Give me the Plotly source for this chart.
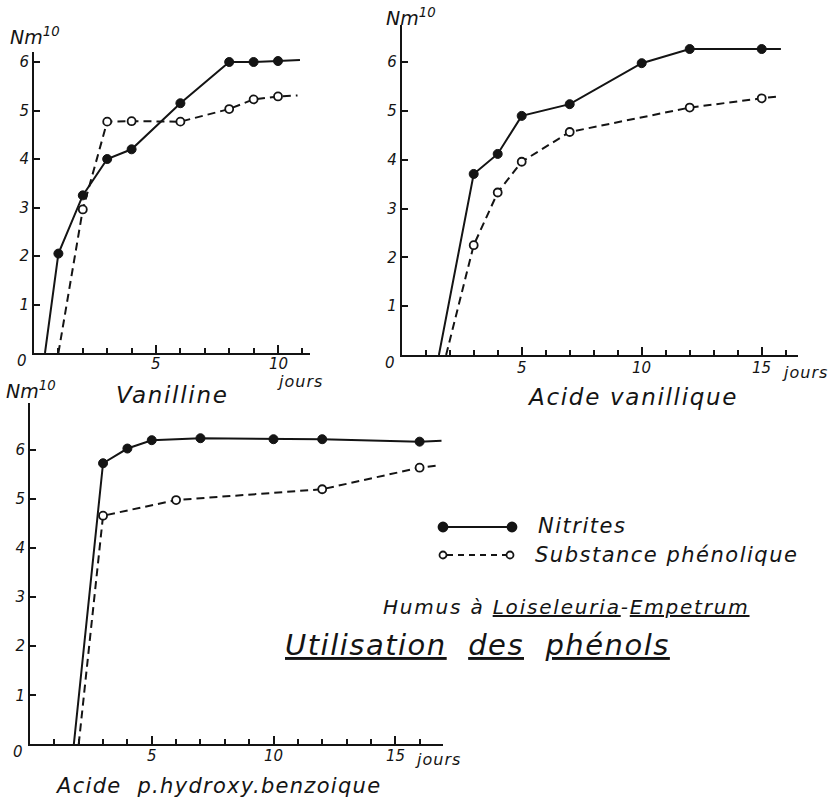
import plotly.graph_objects as go

# ---------------- data ----------------
# Panel 1 : Vanilline
van_nit_days = [0.45, 1, 2, 3, 4, 6, 8, 9, 10, 10.9]
van_nit_vals = [0, 2.05, 3.25, 4.0, 4.2, 5.15, 6.0, 6.0, 6.02, 6.04]
van_phe_days = [1, 2, 3, 4, 6, 8, 9, 10, 10.8]
van_phe_vals = [0, 2.96, 4.77, 4.78, 4.77, 5.03, 5.23, 5.29, 5.31]

# Panel 2 : Acide vanillique
vac_nit_days = [1.55, 3, 4, 5, 7, 10, 12, 15, 15.8]
vac_nit_vals = [0, 3.71, 4.12, 4.9, 5.14, 5.98, 6.27, 6.27, 6.27]
vac_phe_days = [1.85, 3, 4, 5, 7, 12, 15, 15.7]
vac_phe_vals = [0, 2.25, 3.33, 3.96, 4.57, 5.07, 5.26, 5.3]

# Panel 3 : Acide p.hydroxy.benzoique
phb_nit_days = [1.8, 3, 4, 5, 7, 10, 12, 16, 16.9]
phb_nit_vals = [0, 5.73, 6.03, 6.2, 6.24, 6.22, 6.22, 6.17, 6.19]
phb_phe_days = [2.0, 3, 6, 12, 16, 16.8]
phb_phe_vals = [0, 4.66, 4.98, 5.2, 5.64, 5.69]

y_ticks = [1, 2, 3, 4, 5, 6]
x_ticks_short = [5, 10]
x_ticks_long = [5, 10, 15]

series_names = ["Nitrites", "Substance phénolique"]
panel_titles = ["Vanilline", "Acide vanillique", "Acide  p.hydroxy.benzoique"]
y_title = "Nm<sup>10</sup>"
x_unit = "jours"
subtitle = "Humus à <u>Loiseleuria</u>-<u>Empetrum</u>"
main_title = "<u>Utilisation</u>  <u>des</u>  <u>phénols</u>"

# ---------------- style ----------------
W, H = 838, 802
INK = "#141414"
FONT = "DejaVu Sans"


def dx(px):
    return px / W


def dy(py):
    return 1 - py / H


def it(size):
    return dict(family=FONT, size=size, color=INK, style="italic")


def spaced(text, ls):
    return '<span style="letter-spacing:%spx">%s</span>' % (ls, text)


fig = go.Figure()


def add_pair(nd, nv, pd_, pv, xa, ya):
    n_sizes = [0] + [9] * (len(nd) - 2) + [0]
    p_sizes = [0] + [8] * (len(pd_) - 2) + [0]
    fig.add_trace(go.Scatter(
        x=pd_, y=pv, xaxis=xa, yaxis=ya, mode="lines+markers",
        line=dict(color=INK, width=2, dash="8px,5px"),
        marker=dict(size=p_sizes, color="white", opacity=1,
                    line=dict(color=INK, width=1.8)),
        showlegend=False, hoverinfo="skip"))
    fig.add_trace(go.Scatter(
        x=nd, y=nv, xaxis=xa, yaxis=ya, mode="lines+markers",
        line=dict(color=INK, width=2),
        marker=dict(size=n_sizes, color=INK, opacity=1, line=dict(color=INK, width=1)),
        showlegend=False, hoverinfo="skip"))


add_pair(van_nit_days, van_nit_vals, van_phe_days, van_phe_vals, "x", "y")
add_pair(vac_nit_days, vac_nit_vals, vac_phe_days, vac_phe_vals, "x2", "y2")
add_pair(phb_nit_days, phb_nit_vals, phb_phe_days, phb_phe_vals, "x3", "y3")


def xaxis(dom_px, rng):
    return dict(
        domain=[dx(dom_px[0]), dx(dom_px[1])], range=rng,
        showline=True, linewidth=2, linecolor=INK, showgrid=False, zeroline=False,
        dtick=5, tick0=0, showticklabels=False,
        ticks="inside", ticklen=8, tickwidth=2, tickcolor=INK,
        minor=dict(dtick=1, ticks="inside", ticklen=5, tickwidth=2, tickcolor=INK),
    )


def yaxis(dom_px, rng):
    return dict(
        domain=[dy(dom_px[0]), dy(dom_px[1])], range=rng,
        showline=True, linewidth=2, linecolor=INK, showgrid=False, zeroline=False,
        tickvals=y_ticks, ticktext=[str(v) for v in y_ticks],
        ticks="inside", ticklen=6, tickwidth=2, tickcolor=INK,
        tickfont=it(15))


fig.update_layout(
    width=W, height=H, autosize=False,
    margin=dict(l=0, r=0, t=0, b=0, pad=0),
    paper_bgcolor="white", plot_bgcolor="rgba(0,0,0,0)",
    xaxis=dict(xaxis([34, 34 + 24.4 * 11.3], [0, 11.3]), anchor="y"),
    yaxis=dict(yaxis([353, 353 - 48.5 * 6.2], [0, 6.2]), anchor="x"),
    xaxis2=dict(xaxis([401.7, 401.7 + 24.0 * 16.5], [0, 16.5]), anchor="y2"),
    yaxis2=dict(yaxis([355, 355 - 48.8 * 6.76], [0, 6.76]), anchor="x2"),
    xaxis3=dict(xaxis([30, 30 + 24.35 * 16.95], [0, 16.95]), anchor="y3"),
    yaxis3=dict(yaxis([744.3, 744.3 - 49.05 * 6.95], [0, 6.95]), anchor="x3"),
    showlegend=False,
)

ann = []


def paper_text(text, x, y, size, xanchor="center"):
    ann.append(dict(text=text, x=dx(x), y=dy(y), xref="paper", yref="paper",
                    xanchor=xanchor, yanchor="middle", showarrow=False, font=it(size)))


# x tick labels (as annotations, close under the axis) and "0" origin labels
for xr, yr, ticks, shift in [("x", "y", x_ticks_short, -11),
                             ("x2", "y2", x_ticks_long, -13),
                             ("x3", "y3", x_ticks_long, -12)]:
    for v in ticks:
        ann.append(dict(text=str(v), x=v, y=0, xref=xr, yref=yr, yshift=shift,
                        showarrow=False, font=it(15), xanchor="center", yanchor="middle"))
    ann.append(dict(text="0", x=0, y=0, xref=xr, yref=yr, xshift=-12, yshift=-8,
                    showarrow=False, font=it(15), xanchor="center", yanchor="middle"))

# y-axis titles
paper_text(y_title, 8, 36, 19, "left")
paper_text(y_title, 384, 17, 19, "left")
paper_text(y_title, 4, 390, 19, "left")

# unit labels
paper_text(spaced(x_unit, 1), 300, 381, 16)
paper_text(spaced(x_unit, 1), 805, 373, 16)
paper_text(spaced(x_unit, 1), 438, 759, 16)

# panel titles
paper_text(spaced(panel_titles[0], 1.7), 172, 395, 23)
paper_text(spaced(panel_titles[1], 1.7), 632, 397, 23)
paper_text(spaced(panel_titles[2], 1.3), 218, 786, 21)

# legend texts
paper_text(spaced(series_names[0], 1.5), 536, 526, 21, "left")
paper_text(spaced(series_names[1], 1.5), 533, 555, 21, "left")

# captions
paper_text(spaced(subtitle, 1.8), 566, 607, 20)
paper_text(spaced(main_title, 1.5), 478, 645, 29)

# legend keys
shapes = [
    dict(type="line", xref="paper", yref="paper", x0=dx(443), x1=dx(512),
         y0=dy(527), y1=dy(527), line=dict(color=INK, width=2)),
    dict(type="line", xref="paper", yref="paper", x0=dx(447), x1=dx(506),
         y0=dy(555), y1=dy(555), line=dict(color=INK, width=1.8, dash="6px,5px")),
]
for cx, cy, filled, r in [(443, 527, True, 4.5), (512, 527, True, 4.5),
                          (443, 555, False, 3.5), (510, 555, False, 3.5)]:
    shapes.append(dict(type="circle", xref="paper", yref="paper",
                       xsizemode="pixel", ysizemode="pixel",
                       xanchor=dx(cx), yanchor=dy(cy), x0=-r, x1=r, y0=-r, y1=r,
                       fillcolor=INK if filled else "white",
                       line=dict(color=INK, width=1.8)))

fig.update_layout(annotations=ann, shapes=shapes)
fig.write_html("out.html")
